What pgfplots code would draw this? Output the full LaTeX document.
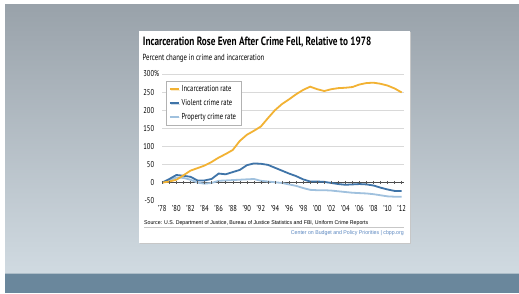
\documentclass[border=0pt]{standalone}
\usepackage{pgfplots}
\pgfplotsset{compat=1.18}
\usepackage{pgfplotstable}
\usepackage{fontspec}
\usetikzlibrary{shadows}
\setmainfont{PT Sans}[FakeStretch=0.77]
\newfontfamily\srcfont{Liberation Sans}[FakeStretch=0.95]
\definecolor{incar}{HTML}{F2B233}
\definecolor{viol}{HTML}{3F74A8}
\definecolor{prop}{HTML}{A0C1DE}
\definecolor{bgtop}{HTML}{99A2AA}
\definecolor{bgbot}{HTML}{D0DAE1}
\definecolor{band}{HTML}{6A879C}
\definecolor{credit}{HTML}{5B87C0}
\pgfplotstableread{
year incar viol prop
1978 0 0 0
1979 3 10 6
1980 8 21 14
1981 20 19 13
1982 33 16 8
1983 40 6 0
1984 47 6 -3
1985 57 10 -1
1986 69 25 5
1987 79 23 6
1988 90 29 7
1989 115 35 8
1990 132 48 9
1991 143 53 10
1992 155 52 5
1993 178 49 3
1994 200 41 1
1995 217 33 -1
1996 230 25 -5
1997 244 18 -9
1998 256 9 -15
1999 265 3 -20
2000 258 3 -21
2001 253 2 -21
2002 258 -1 -22
2003 261 -4 -24
2004 262 -6 -26
2005 264 -5 -28
2006 271 -4 -29
2007 275 -5 -30
2008 276 -8 -32
2009 273 -14 -35
2010 268 -19 -38
2011 260 -23 -39
2012 249 -23 -39
}\data
\begin{document}
\begin{tikzpicture}[x=1pt,y=1pt]
\fill[white] (0,0) rectangle (519,293);
\shade[top color=bgtop, bottom color=bgbot] (5,20) rectangle (519,289);
\fill[band] (5,0) rectangle (519,20);
\fill[band!55!white] (5,19) rectangle (519,20.5);
\fill[black!22] (140.2,48.8) rectangle (411.2,261);
\fill[white] (139,50) rectangle (410,262);
\node[anchor=base west, font=\bfseries\fontsize{12}{14}\selectfont, inner sep=0] at (142.7,247.3) {Incarceration Rose Even After Crime Fell, Relative to 1978};
\node[anchor=base west, font=\fontsize{8.8}{11}\selectfont, inner sep=0] at (142.5,233) {Percent change in crime and incarceration};
\begin{axis}[
  at={(162.3pt,92.3pt)}, anchor=south west,
  scale only axis, width=241.5pt, height=126.7pt,
  xmin=1978, xmax=2012.3, ymin=-50, ymax=300,
  axis line style={draw=none},
  tick style={draw=none},
  major tick length=0pt,
  xtick={1978,1980,...,2012},
  xticklabels={'78,'80,'82,'84,'86,'88,'90,'92,'94,'96,'98,'00,'02,'04,'06,'08,'10,'12},
  ytick={50,100,...,300},
  yticklabels={50,100,150,200,250,300\rlap{\%}},
  extra y ticks={-50,0},
  extra y tick labels={-50,0},
  extra y tick style={grid=none},
  ymajorgrids,
  grid style={black!15, line width=0.6pt},
  yticklabel style={inner sep=0pt, xshift=-8pt, anchor=east},
  xticklabel style={inner sep=0pt, anchor=north, yshift=-5pt},
  tick label style={font=\fontsize{8.5}{10}\selectfont},
  /pgf/number format/assume math mode=true,
  clip=false,
  legend cell align=left,
  legend image code/.code={\draw[#1, line width=1.8pt] (0pt,0pt) -- (9pt,0pt);},
  legend style={at={(0.014,0.945)}, anchor=north west, draw=black!30, fill=white,
    font=\fontsize{8.6}{10}\selectfont, inner xsep=3pt, inner ysep=2.2pt, row sep=2.2pt,
    drop shadow={shadow xshift=0.8pt, shadow yshift=-0.8pt, opacity=0.25},
    /tikz/every even column/.append style={column sep=1pt}},
]
\addlegendimage{incar}
\addlegendentry{Incarceration rate}
\addlegendimage{viol}
\addlegendentry{Violent crime rate}
\addlegendimage{prop}
\addlegendentry{Property crime rate}
\addplot[forget plot, black!70, line width=0.6pt] coordinates {(1978,0) (2012.3,0)};
\addplot[forget plot, only marks, mark=|, mark size=1.8pt, mark options={black!65, line width=0.4pt}] coordinates {
(1978,0)(1979,0)(1980,0)(1981,0)(1982,0)(1983,0)(1984,0)(1985,0)(1986,0)(1987,0)(1988,0)(1989,0)
(1990,0)(1991,0)(1992,0)(1993,0)(1994,0)(1995,0)(1996,0)(1997,0)(1998,0)(1999,0)(2000,0)(2001,0)
(2002,0)(2003,0)(2004,0)(2005,0)(2006,0)(2007,0)(2008,0)(2009,0)(2010,0)(2011,0)(2012,0)};
\addplot[forget plot, prop, line width=1.8pt] table[x=year, y=prop] {\data};
\addplot[forget plot, viol, line width=1.8pt] table[x=year, y=viol] {\data};
\addplot[forget plot, incar, line width=1.8pt] table[x=year, y=incar] {\data};
\end{axis}
\draw[black!22, line width=0.4pt] (144,66.2) -- (404,66.2);
\node[anchor=base west, font=\srcfont\fontsize{5.5}{6.5}\selectfont, inner sep=0] at (144,69) {Source: U.S. Department of Justice, Bureau of Justice Statistics and FBI, Uniform Crime Reports};
\node[anchor=base east, font=\srcfont\fontsize{5.5}{6.5}\selectfont, text=credit, inner sep=0] at (404,58.5) {Center on Budget and Policy Priorities | cbpp.org};
\end{tikzpicture}
\end{document}
